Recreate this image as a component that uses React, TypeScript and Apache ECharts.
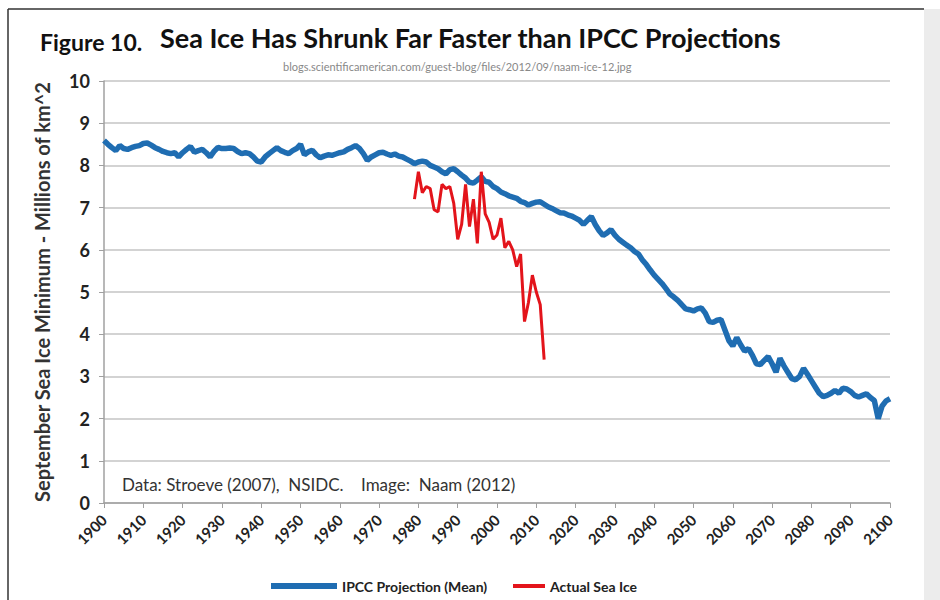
import React, { useEffect, useRef } from "react";
import * as echarts from "echarts";

const ipccStartYear = 1900;
const ipccValues = [
  8.59, 8.5, 8.42, 8.35, 8.47, 8.4, 8.38, 8.42, 8.45, 8.47,
  8.52, 8.53, 8.48, 8.42, 8.38, 8.33, 8.3, 8.28, 8.3, 8.2,
  8.3, 8.38, 8.45, 8.31, 8.35, 8.38, 8.3, 8.2, 8.33, 8.43,
  8.4, 8.4, 8.41, 8.4, 8.33, 8.28, 8.3, 8.28, 8.2, 8.1,
  8.08, 8.2, 8.28, 8.35, 8.42, 8.35, 8.31, 8.28, 8.35, 8.4,
  8.5, 8.25, 8.32, 8.36, 8.25, 8.18, 8.22, 8.25, 8.24, 8.27,
  8.3, 8.32, 8.38, 8.42, 8.47, 8.4, 8.28, 8.12, 8.2, 8.25,
  8.3, 8.31, 8.27, 8.24, 8.27, 8.22, 8.2, 8.15, 8.1, 8.04,
  8.08, 8.1, 8.08, 8.0, 7.96, 7.92, 7.85, 7.8, 7.9, 7.92,
  7.85, 7.77, 7.7, 7.6, 7.58, 7.65, 7.73, 7.62, 7.6, 7.5,
  7.45, 7.37, 7.33, 7.28, 7.25, 7.22, 7.15, 7.12, 7.06, 7.1,
  7.13, 7.14, 7.08, 7.02, 6.98, 6.93, 6.88, 6.87, 6.83, 6.8,
  6.75, 6.7, 6.6, 6.7, 6.79, 6.6, 6.45, 6.34, 6.4, 6.48,
  6.35, 6.25, 6.18, 6.11, 6.05, 5.96, 5.9, 5.76, 5.65, 5.52,
  5.4, 5.3, 5.2, 5.08, 4.95, 4.88, 4.8, 4.7, 4.6, 4.58,
  4.55, 4.6, 4.62, 4.5, 4.3, 4.28, 4.33, 4.35, 4.1, 3.85,
  3.72, 3.92, 3.75, 3.6, 3.66, 3.5, 3.3, 3.28, 3.38, 3.47,
  3.3, 3.1, 3.43, 3.25, 3.1, 2.95, 2.92, 3.0, 3.19, 3.05,
  2.9, 2.75, 2.6, 2.52, 2.55, 2.6, 2.67, 2.6, 2.72, 2.7,
  2.64, 2.55, 2.51, 2.55, 2.59, 2.5, 2.43, 2.0, 2.3, 2.42,
  2.47,
];

const iceStartYear = 1979;
const iceValues = [
  7.2, 7.85, 7.35, 7.5, 7.45, 6.95, 6.9, 7.55, 7.45, 7.5,
  7.1, 6.25, 6.6, 7.55, 6.55, 7.2, 6.15, 7.85, 6.85, 6.65,
  6.25, 6.35, 6.75, 6.05, 6.2, 6.0, 5.6, 5.9, 4.3, 4.75,
  5.4, 5.0, 4.7, 3.4,
];

const seriesNames = ["IPCC Projection (Mean)", "Actual Sea Ice"];
const titleMain = "Sea Ice Has Shrunk Far Faster than IPCC Projections";
const titlePrefix = "Figure 10.";
const sourceUrl = "blogs.scientificamerican.com/guest-blog/files/2012/09/naam-ice-12.jpg";
const noteText = "Data: Stroeve (2007),  NSIDC.    Image:  Naam (2012)";
const yAxisTitle = "September Sea Ice Minimum - Millions of km^2";

export default function App() {
  const ref = useRef<HTMLDivElement>(null);

  useEffect(() => {
    if (!ref.current) return;
    const chart = echarts.init(ref.current, null, { renderer: "svg" });
    const ipccData = ipccValues.map((v, i) => [ipccStartYear + i, v]);
    const iceData = iceValues.map((v, i) => [iceStartYear + i, v]);
    const font = "Lato, 'Open Sans', sans-serif";

    chart.setOption({
      animation: false,
      backgroundColor: "#ffffff",
      grid: { left: 104, right: 50, top: 81, bottom: 97 },
      xAxis: {
        type: "value",
        min: 1900,
        max: 2100,
        interval: 10,
        axisLine: { show: true, lineStyle: { color: "#a0a0a0", width: 1.5 } },
        axisTick: { show: true, length: 5, lineStyle: { color: "#a0a0a0" } },
        splitLine: { show: false },
        axisLabel: {
          rotate: 45,
          color: "#222",
          fontFamily: font,
          fontWeight: "bold",
          fontSize: 15,
          margin: 14,
          formatter: (v: number) => String(v),
        },
      },
      yAxis: {
        type: "value",
        min: 0,
        max: 10,
        interval: 1,
        name: yAxisTitle,
        nameLocation: "middle",
        nameGap: 52,
        nameTextStyle: {
          color: "#333",
          fontFamily: font,
          fontWeight: "bold",
          fontSize: 20,
        },
        axisLine: { show: true, lineStyle: { color: "#a0a0a0", width: 1.5 } },
        axisTick: { show: true, length: 5, lineStyle: { color: "#a0a0a0" } },
        splitLine: { show: true, lineStyle: { color: "#c4c4c4", width: 1.5 } },
        axisLabel: {
          color: "#222",
          fontFamily: font,
          fontWeight: "bold",
          fontSize: 18,
          margin: 14,
        },
      },
      legend: [
        {
          data: [seriesNames[0]],
          left: 266,
          top: 574,
          icon: "rect",
          itemWidth: 66,
          itemHeight: 6,
          itemGap: 4,
          textStyle: { color: "#222", fontFamily: font, fontWeight: "bold", fontSize: 14 },
        },
        {
          data: [seriesNames[1]],
          left: 508,
          top: 574,
          icon: "rect",
          itemWidth: 32,
          itemHeight: 4,
          textStyle: { color: "#222", fontFamily: font, fontWeight: "bold", fontSize: 14 },
        },
      ],
      series: [
        {
          name: seriesNames[0],
          type: "line",
          data: ipccData,
          showSymbol: false,
          color: "#1f6db2",
          lineStyle: { width: 5.5, color: "#1f6db2" },
          z: 2,
        },
        {
          name: seriesNames[1],
          type: "line",
          data: iceData,
          showSymbol: false,
          color: "#e3141b",
          lineStyle: { width: 3, color: "#e3141b" },
          z: 3,
        },
      ],
      graphic: [
        { type: "line", shape: { x1: 8, y1: 9, x2: 924, y2: 9 }, style: { stroke: "#333", lineWidth: 1.5 } },
        { type: "line", shape: { x1: 8, y1: 9, x2: 8, y2: 600 }, style: { stroke: "#333", lineWidth: 1.5 } },
        { type: "rect", shape: { x: 924, y: 9, width: 16, height: 591 }, style: { fill: "#ececec" } },
        {
          type: "text",
          left: 40,
          top: 30,
          style: {
            text: titlePrefix,
            fill: "#111",
            font: `bold 23px ${font}`,
          },
        },
        {
          type: "text",
          left: 160,
          top: 24,
          style: {
            text: titleMain,
            fill: "#111",
            font: `bold 27px ${font}`,
          },
        },
        {
          type: "text",
          left: 283,
          top: 61,
          style: {
            text: sourceUrl,
            fill: "#888",
            font: `11px ${font}`,
          },
        },
        {
          type: "text",
          left: 122,
          top: 476,
          style: {
            text: noteText,
            fill: "#333",
            font: `17px ${font}`,
          },
        },
      ],
    });

    return () => chart.dispose();
  }, []);

  return (
    <div
      ref={ref}
      style={{ position: "fixed", left: 0, top: 0, width: 940, height: 600 }}
    />
  );
}
